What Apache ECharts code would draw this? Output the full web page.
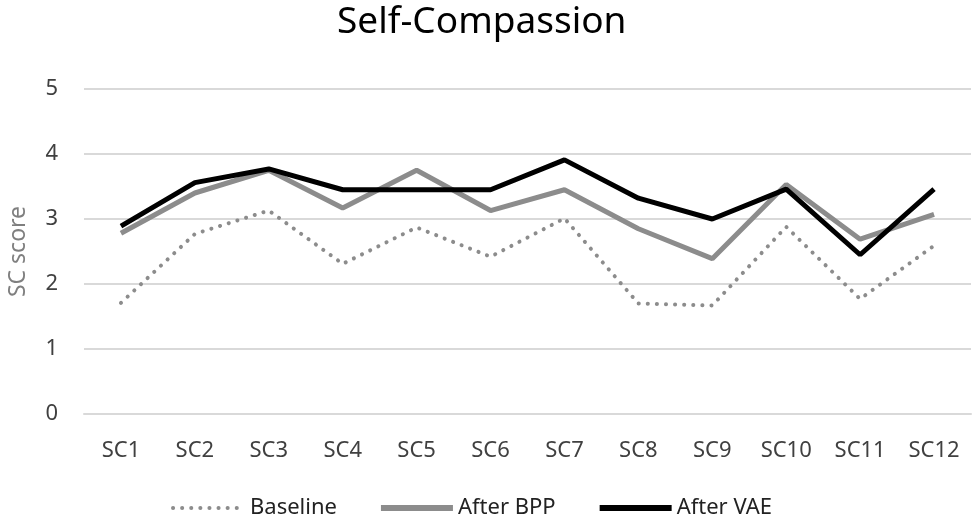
<!DOCTYPE html>
<html><head><meta charset="utf-8">
<script src="https://cdn.jsdelivr.net/npm/echarts@6/dist/echarts.min.js"></script>
<style>html,body{margin:0;padding:0;background:#fff}#c{width:974px;height:524px}</style>
</head><body><div id="c"></div>
<script>
const categories = ['SC1','SC2','SC3','SC4','SC5','SC6','SC7','SC8','SC9','SC10','SC11','SC12'];
const baseline = [1.71, 2.77, 3.13, 2.31, 2.87, 2.42, 3.01, 1.70, 1.67, 2.88, 1.77, 2.59];
const afterBPP = [2.78, 3.40, 3.75, 3.17, 3.75, 3.13, 3.45, 2.85, 2.39, 3.53, 2.69, 3.07];
const afterVAE = [2.89, 3.56, 3.77, 3.45, 3.45, 3.45, 3.91, 3.32, 3.00, 3.46, 2.45, 3.46];
const yTicks = [0, 1, 2, 3, 4, 5];
const font = '"Noto Sans", "Open Sans", sans-serif';
const chart = echarts.init(document.getElementById('c'), null, {renderer: 'canvas'});
chart.setOption({
  animation: false,
  title: {text: 'Self-Compassion', left: 332, top: -1,
    textStyle: {fontFamily: font, fontSize: 37, fontWeight: 'normal', color: '#000'}},
  grid: {left: 84, right: 3, top: 89, bottom: 110, containLabel: false, outerBoundsMode: 'none'},
  legend: {bottom: 0, left: 166, itemWidth: 72, itemHeight: 14, itemGap: 41,
    itemStyle: {opacity: 0},
    textStyle: {fontFamily: font, fontSize: 22, color: '#222'},
    data: [
      {name: 'Baseline', lineStyle: {width: 4}},
      {name: 'After BPP', lineStyle: {width: 6}},
      {name: 'After VAE', lineStyle: {width: 6}}
    ]},
  xAxis: {type: 'category', data: categories, boundaryGap: true,
    axisLine: {lineStyle: {color: '#d9d9d9', width: 2}}, axisTick: {show: false},
    axisLabel: {fontFamily: font, fontSize: 22, color: '#404040', margin: 26}},
  yAxis: {type: 'value', min: yTicks[0], max: yTicks[yTicks.length-1], interval: 1,
    name: 'SC score', nameLocation: 'middle', nameGap: 54, nameRotate: 90,
    nameTextStyle: {fontFamily: font, fontSize: 23, color: '#7f7f7f'},
    axisLine: {show: false}, axisTick: {show: false},
    axisLabel: {fontFamily: font, fontSize: 22, color: '#404040', margin: 26},
    splitLine: {lineStyle: {color: '#d9d9d9', width: 2}}},
  series: [
    {name: 'Baseline', type: 'line', data: baseline, symbol: 'none',
      lineStyle: {color: '#8c8c8c', width: 4, type: [0.1, 9], cap: 'round'},
      itemStyle: {color: '#8c8c8c'}},
    {name: 'After BPP', type: 'line', data: afterBPP, symbol: 'none',
      lineStyle: {color: '#8c8c8c', width: 5}, itemStyle: {color: '#8c8c8c'}},
    {name: 'After VAE', type: 'line', data: afterVAE, symbol: 'none',
      lineStyle: {color: '#000', width: 5}, itemStyle: {color: '#000'}}
  ]
});
</script></body></html>
